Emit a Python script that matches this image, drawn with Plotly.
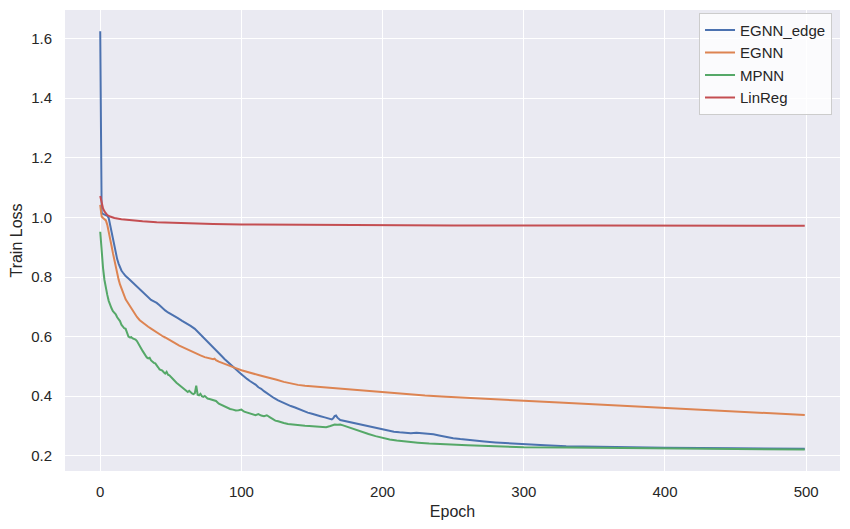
import plotly.graph_objects as go

# ---------------- data ----------------
edge_epochs = [0, 1, 2, 3, 4, 5, 6, 7, 8, 9, 10, 11, 12, 13, 14, 15, 16, 17, 18, 20, 22, 24, 26, 28, 30, 32, 34, 36, 38, 40,
               42, 44, 46, 48, 50, 52, 55, 58, 61, 64, 67, 70, 72, 74, 76, 78, 80, 82, 84, 86, 88, 90, 92, 94, 96, 98, 100,
               102, 104, 106, 108, 110, 112, 114, 116, 118, 120, 123, 126, 129, 132, 135, 138, 141, 144, 147, 150, 153, 156,
               159, 162, 164, 165, 166, 167, 168, 170, 173, 176, 180, 184, 188, 192, 196, 200, 204, 208, 212, 216, 220, 224,
               228, 232, 236, 240, 245, 250, 255, 260, 266, 272, 280, 290, 300, 315, 330, 350, 375, 400, 450, 499]
edge_loss = [1.625, 1.015, 1.012, 1.010, 1.008, 1.005, 0.998, 0.975, 0.945, 0.920, 0.900, 0.878, 0.860, 0.845, 0.832, 0.822,
             0.815, 0.808, 0.803, 0.795, 0.786, 0.776, 0.768, 0.760, 0.752, 0.743, 0.733, 0.723, 0.718, 0.713,
             0.705, 0.695, 0.688, 0.681, 0.676, 0.670, 0.662, 0.653, 0.645, 0.636, 0.626, 0.612, 0.602, 0.592, 0.583, 0.575,
             0.566, 0.556, 0.545, 0.535, 0.525, 0.516, 0.506, 0.498, 0.490, 0.482, 0.474,
             0.465, 0.458, 0.451, 0.446, 0.439, 0.430, 0.425, 0.417, 0.410, 0.402, 0.394, 0.386, 0.379, 0.373, 0.367, 0.362,
             0.356, 0.351, 0.345, 0.341, 0.336, 0.333,
             0.329, 0.325, 0.322, 0.326, 0.333, 0.335, 0.328, 0.320, 0.317, 0.313, 0.309, 0.305, 0.300, 0.296, 0.292, 0.288,
             0.284, 0.281, 0.279, 0.277, 0.276, 0.277,
             0.276, 0.274, 0.272, 0.268, 0.263, 0.259, 0.256, 0.253, 0.250, 0.248, 0.245, 0.242, 0.238, 0.235, 0.232, 0.230,
             0.228, 0.227, 0.225, 0.224]

egnn_epochs = [0, 1, 2, 3, 4, 5, 6, 7, 8, 9, 10, 11, 12, 13, 14, 15, 16, 17, 18, 19, 20, 22, 24, 26, 28, 30, 32, 34, 36, 38,
               40, 42, 44, 46, 48, 50, 53, 56, 59, 62, 65, 68, 71, 74, 77, 79, 80, 81, 82, 84, 87, 90, 93, 96, 100, 104, 108,
               112, 116, 120, 125, 130, 135, 140, 145, 150, 155, 160, 170, 180, 190, 200, 215, 230, 245, 260, 280, 300, 325,
               350, 375, 400, 425, 450, 475, 499]
egnn_loss = [1.042, 1.003, 0.998, 0.995, 0.990, 0.975, 0.955, 0.930, 0.905, 0.880, 0.855, 0.830, 0.810, 0.792, 0.775, 0.762,
             0.748, 0.735, 0.725, 0.718, 0.710, 0.697, 0.680, 0.666, 0.655, 0.647, 0.640, 0.633, 0.627, 0.620,
             0.615, 0.608, 0.602, 0.597, 0.591, 0.585, 0.578, 0.570, 0.563, 0.556, 0.549, 0.543, 0.537, 0.531, 0.527, 0.524,
             0.524, 0.526, 0.521, 0.516, 0.510, 0.504, 0.499, 0.494, 0.487, 0.481, 0.476,
             0.471, 0.466, 0.462, 0.455, 0.448, 0.442, 0.438, 0.435, 0.433, 0.432, 0.430, 0.425, 0.421, 0.417, 0.413, 0.407,
             0.402, 0.398, 0.395, 0.390, 0.385, 0.379,
             0.373, 0.366, 0.360, 0.354, 0.348, 0.343, 0.337]

mpnn_epochs = [0, 1, 2, 3, 4, 5, 6, 7, 8, 9, 10, 11, 12, 13, 14, 15, 16, 17, 18, 19, 20, 21, 22, 23, 24, 25, 26, 27, 28, 29,
               30, 31, 32, 33, 34, 35, 36, 37, 38, 39, 40, 41, 42, 43, 44, 45, 46, 47, 48, 49, 50, 52, 54, 56, 58, 60, 61, 62,
               63, 64, 65, 66, 67, 68, 69, 70, 71, 72, 73, 74, 75, 76, 78, 80, 82, 84, 86, 88, 90, 92, 94, 96, 98, 100, 102,
               104, 106, 108, 110, 112, 114, 116, 118, 120, 122, 124, 126, 128, 130, 133, 136, 139, 142, 145, 148, 151, 154,
               157, 160, 163, 166, 168, 170, 172, 175, 178, 182, 186, 190, 195, 200, 205, 210, 215, 220, 225, 233, 245, 260,
               280, 300, 330, 360, 400, 450, 499]
mpnn_loss = [0.952, 0.870, 0.830, 0.790, 0.760, 0.740, 0.720, 0.705, 0.695, 0.685, 0.680, 0.675, 0.665, 0.660, 0.652, 0.640,
             0.632, 0.628, 0.626, 0.610, 0.600, 0.597, 0.598, 0.594, 0.592, 0.590, 0.585, 0.575, 0.566, 0.560,
             0.552, 0.545, 0.535, 0.530, 0.527, 0.529, 0.520, 0.515, 0.512, 0.510, 0.505, 0.497, 0.490, 0.488, 0.486, 0.480,
             0.476, 0.482, 0.472, 0.470, 0.464, 0.455, 0.445, 0.437, 0.430, 0.422, 0.415, 0.414,
             0.418, 0.412, 0.409, 0.407, 0.410, 0.435, 0.405, 0.403, 0.408, 0.400, 0.398, 0.401, 0.395, 0.392, 0.390, 0.388,
             0.384, 0.375, 0.370, 0.365, 0.360, 0.357, 0.355, 0.352, 0.353, 0.355, 0.348,
             0.345, 0.342, 0.338, 0.336, 0.340, 0.335, 0.333, 0.336, 0.330, 0.325, 0.318, 0.316, 0.312, 0.310, 0.307, 0.305,
             0.304, 0.302, 0.301, 0.300, 0.299, 0.297,
             0.298, 0.296, 0.300, 0.305, 0.304, 0.305, 0.302, 0.297, 0.292, 0.285, 0.279, 0.273, 0.266, 0.260, 0.255, 0.251,
             0.248, 0.246, 0.244, 0.241, 0.238, 0.235,
             0.232, 0.229, 0.228, 0.227, 0.225, 0.223, 0.221]

linreg_epochs = [0, 1, 2, 3, 4, 5, 7, 10, 15, 20, 30, 40, 50, 60, 80, 100, 130, 170, 250, 350, 499]
linreg_loss = [1.072, 1.045, 1.030, 1.020, 1.013, 1.008, 1.003, 0.998, 0.994, 0.991, 0.987, 0.984, 0.982, 0.980, 0.978,
               0.976, 0.975, 0.974, 0.973, 0.9725, 0.972]

series_names = ["EGNN_edge", "EGNN", "MPNN", "LinReg"]
series_colors = ["#4C72B0", "#DD8452", "#55A868", "#C44E52"]
x_ticks = [0, 100, 200, 300, 400, 500]
y_ticks = [0.2, 0.4, 0.6, 0.8, 1.0, 1.2, 1.4, 1.6]
y_tick_labels = ["0.2", "0.4", "0.6", "0.8", "1.0", "1.2", "1.4", "1.6"]

# ---------------- figure ----------------
fig = go.Figure()
all_series = [(edge_epochs, edge_loss), (egnn_epochs, egnn_loss), (mpnn_epochs, mpnn_loss), (linreg_epochs, linreg_loss)]
for (xs, ys), name, color in zip(all_series, series_names, series_colors):
    fig.add_trace(go.Scatter(x=xs, y=ys, mode="lines", name=name,
                             line=dict(color=color, width=2)))

font_family = "Liberation Sans, Arial, sans-serif"
fig.update_layout(
    width=850, height=529,
    margin=dict(l=57, r=18, t=2, b=66, autoexpand=False),
    paper_bgcolor="white",
    plot_bgcolor="#EAEAF2",
    font=dict(family=font_family, size=15, color="#262626"),
    showlegend=True,
    legend=dict(
        x=0.9897, y=0.994, xanchor="right", yanchor="top",
        bgcolor="rgba(255,255,255,0.8)",
        bordercolor="#CCCCCC", borderwidth=1,
        font=dict(family=font_family, size=15, color="#262626"),
        tracegroupgap=0, itemwidth=30,
    ),
    xaxis=dict(
        range=[-24.95, 523.95],
        tickvals=x_ticks,
        showgrid=True, gridcolor="white", gridwidth=1.4,
        zeroline=False, showline=False, ticks="",
        automargin=False,
        ticklabelstandoff=10,
        title=dict(text="Epoch", font=dict(size=16, color="#262626"), standoff=6),
        tickfont=dict(size=15, color="#262626"),
    ),
    yaxis=dict(
        range=[0.149, 1.696],
        tickvals=y_ticks, ticktext=y_tick_labels,
        showgrid=True, gridcolor="white", gridwidth=1.4,
        zeroline=False, showline=False, ticks="",
        automargin=False,
        ticklabelstandoff=12,
        title=dict(text="Train Loss", font=dict(size=16, color="#262626"), standoff=6),
        tickfont=dict(size=15, color="#262626"),
    ),
)

fig.write_html("out.html")
